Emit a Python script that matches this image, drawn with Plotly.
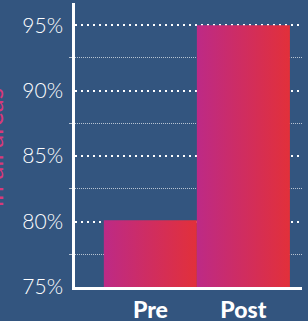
import plotly.graph_objects as go

categories = ["Pre", "Post"]
values = [80.1, 95.0]
y_tickvals = [75, 80, 85, 90, 95]
y_ticktext = ["75%", "80%", "85%", "90%", "95%"]
y_title = "in all areas"

BG = "#33557f"
grad = [[0, "#bd2a86"], [1, "#e2303a"]]

fig = go.Figure()
base = 75
for i, (c, v) in enumerate(zip(categories, values)):
    xs = [i - 0.5, i + 0.5, i + 0.5, i - 0.5, i - 0.5]
    ys = [base - 0.2, base - 0.2, v, v, base - 0.2]
    fig.add_trace(go.Scatter(
        x=xs, y=ys, mode="lines", fill="toself",
        line=dict(width=0),
        fillgradient=dict(type="horizontal", colorscale=grad),
        hoverinfo="skip", showlegend=False, name=c,
    ))

fig.update_layout(
    width=308, height=321,
    margin=dict(l=75, r=6, t=3, b=34),
    paper_bgcolor=BG, plot_bgcolor=BG,
    font=dict(family="Lato", color="white"),
    showlegend=False,
)
fig.update_xaxes(
    range=[-0.81, 1.63], automargin=False,
    tickvals=list(range(len(categories))), ticktext=categories,
    tickfont=dict(size=23, family="Lato", weight=900, color="white"),
    showgrid=False, zeroline=False,
    showline=True, linecolor="white", linewidth=2.5,
    ticks="", ticklabelstandoff=1,
)
fig.update_yaxes(
    range=[75, 96.7], automargin=False,
    tickvals=y_tickvals, ticktext=y_ticktext,
    tickfont=dict(size=21, family="Lato", weight=300, color="white"),
    showgrid=True, gridcolor="white", gridwidth=2, griddash="2px,4px",
    zeroline=False,
    showline=True, linecolor="white", linewidth=2.5,
    ticks="", ticklabelstandoff=5,
    minor=dict(tickvals=[77.5, 82.5, 87.5, 92.5], showgrid=True,
               gridcolor="rgba(255,255,255,0.65)", gridwidth=1, griddash="1px,1px",
               ticks="outside", ticklen=3, tickcolor="rgba(255,255,255,0.65)", tickwidth=1),
)
fig.add_annotation(
    text=y_title, textangle=-90, showarrow=False,
    xref="paper", yref="paper", x=(-7 - 75) / 227, y=(287 - 148) / 284,
    xanchor="center", yanchor="middle",
    font=dict(size=26, color="#d8387a", family="Lato", weight=400),
)
fig.write_html("out.html", config={"displayModeBar": False},
               post_script="document.body.style.margin='0px';")
